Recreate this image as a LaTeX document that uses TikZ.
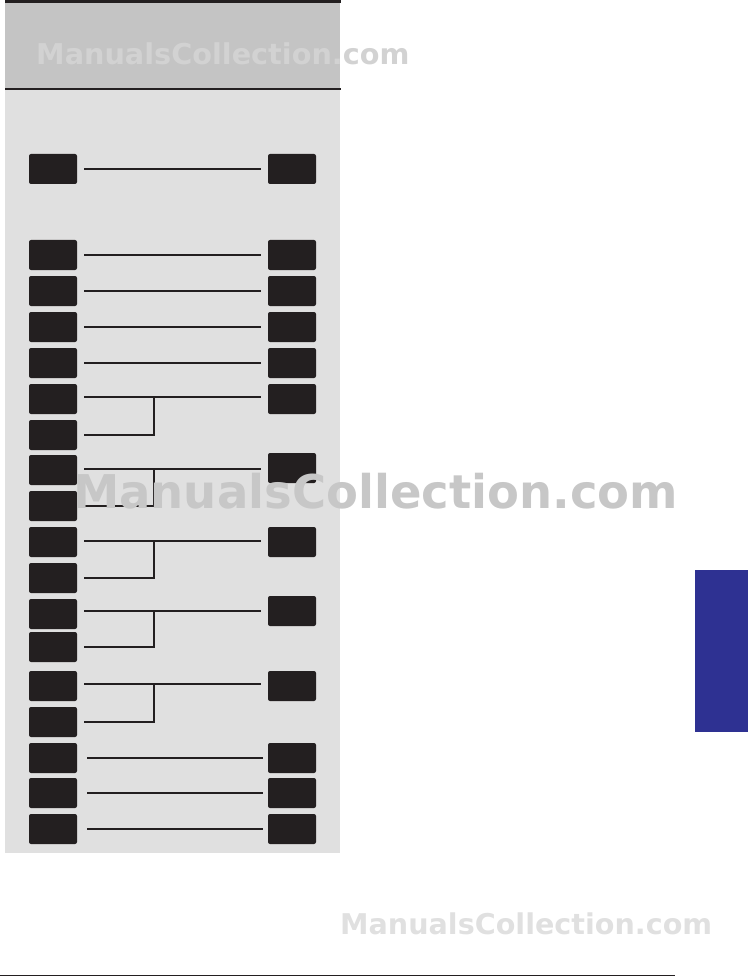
\documentclass[tikz,border=0pt]{standalone}
\usepackage{fontspec}
\newfontfamily\markfont{DejaVu Sans}
\definecolor{pinblack}{HTML}{231F20}
\definecolor{headgray}{HTML}{C4C4C4}
\definecolor{panelgray}{HTML}{E0E0E0}
\definecolor{tabblue}{HTML}{2E3192}
\definecolor{markgray}{HTML}{D2D2D2}
\tikzset{
  pin/.style={fill=pinblack, rounded corners=2pt, minimum width=48pt, minimum height=30pt, inner sep=0pt},
  wire/.style={line width=2pt, draw=pinblack},
  watermark/.style={inner sep=0pt, anchor=base west}
}
\begin{document}
\begin{tikzpicture}[x=1pt,y=-1pt]
\useasboundingbox (0,0) rectangle (749,976);
% Panel and header
\fill[panelgray] (5, 89) rectangle (340, 853);
\fill[headgray] (5, 3) rectangle (340, 89);
\draw[line width=3pt, pinblack] (5, 2) -- (341, 2);
\draw[line width=2pt, pinblack] (5, 89) -- (341, 89);

% Single rows
\node[pin] (l0) at (53, 169) {};
\node[pin] (r0) at (292, 169) {};
\draw[wire] ([xshift=7pt]l0.east) -- ([xshift=-7pt]r0.west);
\node[pin] (l1) at (53, 255) {};
\node[pin] (r1) at (292, 255) {};
\draw[wire] ([xshift=7pt]l1.east) -- ([xshift=-7pt]r1.west);
\node[pin] (l2) at (53, 291) {};
\node[pin] (r2) at (292, 291) {};
\draw[wire] ([xshift=7pt]l2.east) -- ([xshift=-7pt]r2.west);
\node[pin] (l3) at (53, 327) {};
\node[pin] (r3) at (292, 327) {};
\draw[wire] ([xshift=7pt]l3.east) -- ([xshift=-7pt]r3.west);
\node[pin] (l4) at (53, 363) {};
\node[pin] (r4) at (292, 363) {};
\draw[wire] ([xshift=7pt]l4.east) -- ([xshift=-7pt]r4.west);

% Paired rows, two left pins onto one right pin
\node[pin] (la) at (53, 399) {};
\node[pin] (lb) at (53, 435) {};
\node[pin] (ra) at (292, 399) {};
\coordinate (ja) at (154, 397);
\draw[wire] ([xshift=7pt]la.east |- ja) -- ([xshift=-7pt]ra.west |- ja);
\draw[wire] ([xshift=7pt]lb.east) -| (ja);
\node[pin] (lc) at (53, 470) {};
\node[pin] (ld) at (53, 506) {};
\node[pin] (rc) at (292, 468) {};
\coordinate (jc) at (154, 469);
\draw[wire] ([xshift=7pt]lc.east |- jc) -- ([xshift=-7pt]rc.west |- jc);
\draw[wire] ([xshift=7pt]ld.east) -| (jc);
\node[pin] (le) at (53, 542) {};
\node[pin] (lf) at (53, 578) {};
\node[pin] (re) at (292, 542) {};
\coordinate (je) at (154, 541);
\draw[wire] ([xshift=7pt]le.east |- je) -- ([xshift=-7pt]re.west |- je);
\draw[wire] ([xshift=7pt]lf.east) -| (je);
\node[pin] (lg) at (53, 614) {};
\node[pin] (lh) at (53, 647) {};
\node[pin] (rg) at (292, 611) {};
\coordinate (jg) at (154, 611);
\draw[wire] ([xshift=7pt]lg.east |- jg) -- ([xshift=-7pt]rg.west |- jg);
\draw[wire] ([xshift=7pt]lh.east) -| (jg);
\node[pin] (li) at (53, 686) {};
\node[pin] (lj) at (53, 722) {};
\node[pin] (ri) at (292, 686) {};
\coordinate (ji) at (154, 684);
\draw[wire] ([xshift=7pt]li.east |- ji) -- ([xshift=-7pt]ri.west |- ji);
\draw[wire] ([xshift=7pt]lj.east) -| (ji);

% Last single rows
\node[pin] (l5) at (53, 758) {};
\node[pin] (r5) at (292, 758) {};
\draw[wire] ([xshift=10pt]l5.east) -- ([xshift=-5pt]r5.west);
\node[pin] (l6) at (53, 793) {};
\node[pin] (r6) at (292, 793) {};
\draw[wire] ([xshift=10pt]l6.east) -- ([xshift=-5pt]r6.west);
\node[pin] (l7) at (53, 829) {};
\node[pin] (r7) at (292, 829) {};
\draw[wire] ([xshift=10pt]l7.east) -- ([xshift=-5pt]r7.west);

% Side tab and foot rule
\fill[tabblue] (695, 570) rectangle (748, 732);
\draw[line width=1pt, pinblack] (0, 975) -- (675, 975);

% Watermarks
\node[watermark, text=markgray, font=\markfont\bfseries\fontsize{28.7}{30}\selectfont] (wm1) at (36, 65) {ManualsCollection.com};
\node[watermark, text=black!22, font=\markfont\bfseries\fontsize{46.5}{48}\selectfont] (wm2) at (73, 508) {ManualsCollection.com};
\node[watermark, text=panelgray, font=\markfont\bfseries\fontsize{28.6}{30}\selectfont] (wm3) at (340, 934) {ManualsCollection.com};
\end{tikzpicture}
\end{document}
